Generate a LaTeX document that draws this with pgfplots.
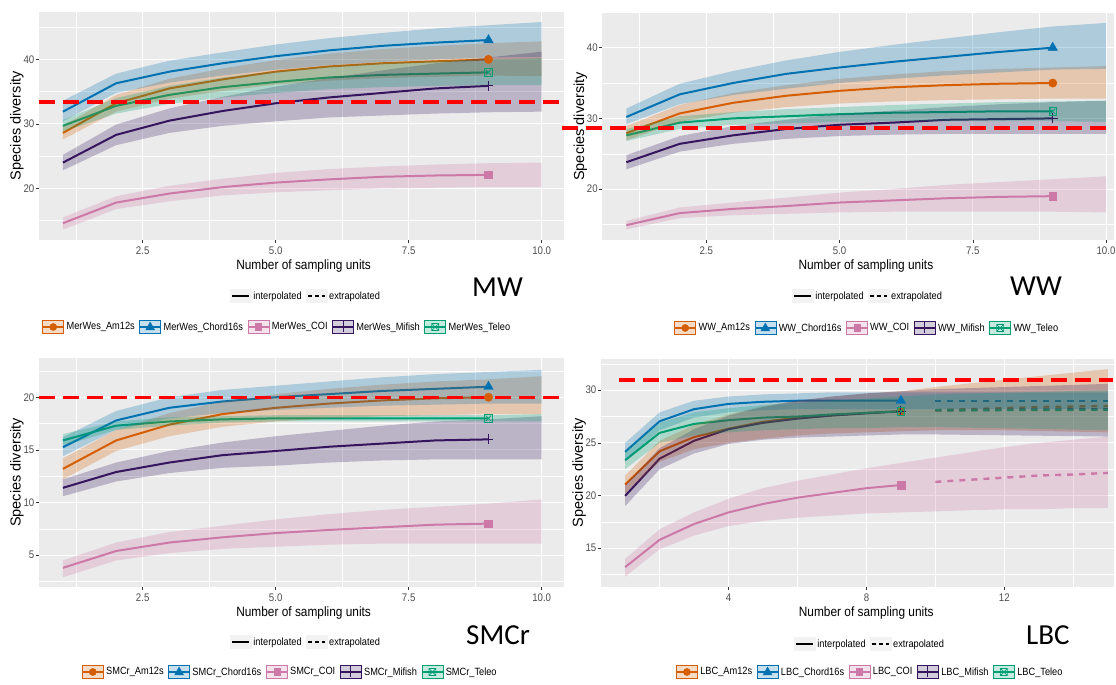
\documentclass[border=0pt]{standalone}
\usepackage{fontspec}
\setmainfont{Liberation Sans}[FakeStretch=0.88]
\newfontfamily\ylabfont{Liberation Sans}
\newfontfamily\bigfont{Carlito}
\usepackage{pgfplots}
\pgfplotsset{compat=1.18}
\definecolor{cAm}{HTML}{D55E00}
\definecolor{cCh}{HTML}{0072B2}
\definecolor{cCOI}{HTML}{CC79A7}
\definecolor{cMi}{HTML}{35155D}
\definecolor{cTe}{HTML}{009E73}
\definecolor{ggbg}{HTML}{EBEBEB}
\definecolor{ggtick}{HTML}{4D4D4D}
\definecolor{ggtl}{HTML}{333333}
\definecolor{keybg}{HTML}{F2F2F2}
\newcommand\legfont{\fontsize{10.5}{12}\selectfont}
\newcommand{\kbox}[1]{\draw[draw=#1, line width=0.7pt, fill=#1!22!white] (0pt,-6.5pt) rectangle (21pt,6.5pt);\draw[#1, line width=1.8pt] (0pt,0pt) -- (21pt,0pt);}
\pgfplotsset{
 gg/.style={
   scale only axis, anchor=south west, clip=false,
   axis background/.style={fill=ggbg},
   axis line style={draw=none},
   grid=both,
   major grid style={white, line width=0.9pt},
   minor grid style={white, line width=0.45pt},
   tick align=outside, xtick pos=bottom, ytick pos=left,
   major tick length=3pt, minor tick length=0pt,
   tick style={ggtl, line width=0.5pt},
   ticklabel style={font=\fontsize{11}{13}\selectfont, text=ggtick},
   yticklabel style={inner sep=1.5pt},
   /pgf/number format/assume math mode=true,
   xlabel={Number of sampling units},
   ylabel={Species diversity},
   xlabel style={font=\fontsize{13.5}{15}\selectfont, anchor=center, yshift=-26pt},
   ylabel style={font=\ylabfont\fontsize{14.5}{16}\selectfont, anchor=center, at={([xshift=-22pt]axis description cs:0,0.5)}},
 },
 band/.style={draw=none, fill=#1, fill opacity=0.26},
 ln/.style={#1, line width=2pt},
 dln/.style={#1, line width=2.4pt, dash pattern=on 6pt off 6pt},
 reddash/.style={color=red, line width=3.5pt, dash pattern=on 16pt off 8pt},
 mAm/.style={cAm, only marks, mark=*, mark size=4.2pt},
 mCh/.style={cCh, only marks, mark=triangle*, mark size=5.5pt},
 mCOI/.style={cCOI, only marks, mark=square*, mark size=3.8pt},
 mMi/.style={cMi, only marks, mark=+, mark size=5pt, line width=1pt},
 mTe/.style={cTe, only marks, mark=square, mark size=3.8pt, line width=0.8pt},
 mTe2/.style={cTe, only marks, mark=x, mark size=3.8pt, line width=0.8pt},
 legax/.style={hide axis, scale only axis, width=2pt, height=2pt, anchor=center,
   xmin=0, xmax=1, ymin=0, ymax=1, legend columns=-1,
   legend style={at={(0.5,0.5)}, anchor=center, draw=none, fill=none, font=\legfont,
     /tikz/every even column/.append style={column sep=2pt}}},
}
\newcommand{\linelegend}{%
 \addlegendimage{legend image code/.code={\fill[keybg] (0pt,-6.5pt) rectangle (21pt,6.5pt);\draw[black, line width=1.8pt] (2pt,0pt) -- (19pt,0pt);}}
 \addlegendentry{interpolated}
 \addlegendimage{legend image code/.code={\fill[keybg] (0pt,-6.5pt) rectangle (21pt,6.5pt);\draw[black, line width=1.8pt, dash pattern=on 4pt off 3pt] (2pt,0pt) -- (19pt,0pt);}}
 \addlegendentry{extrapolated}}
\newcommand{\colorlegend}[1]{%
 \addlegendimage{legend image code/.code={\kbox{cAm}\fill[cAm] (10.5pt,0pt) circle (3.6pt);}}
 \addlegendentry{#1\_Am12s}
 \addlegendimage{legend image code/.code={\kbox{cCh}\fill[cCh] (10.5pt,5pt) -- (15pt,-3pt) -- (6pt,-3pt) -- cycle;}}
 \addlegendentry{#1\_Chord16s}
 \addlegendimage{legend image code/.code={\kbox{cCOI}\fill[cCOI] (7.5pt,-3.5pt) rectangle (13.5pt,3.5pt);}}
 \addlegendentry{#1\_COI}
 \addlegendimage{legend image code/.code={\kbox{cMi}\draw[cMi, line width=0.8pt] (10.5pt,-5.5pt) -- (10.5pt,5.5pt);}}
 \addlegendentry{#1\_Mifish}
 \addlegendimage{legend image code/.code={\kbox{cTe}\draw[cTe, line width=0.6pt] (7pt,-3.5pt) rectangle (14pt,3.5pt) (7pt,-3.5pt) -- (14pt,3.5pt) (7pt,3.5pt) -- (14pt,-3.5pt);}}
 \addlegendentry{#1\_Teleo}}
\begin{document}
\begin{tikzpicture}
\useasboundingbox (0pt,0pt) rectangle (1116pt,685pt);
% ---------------- MW
\begin{axis}[gg, at={(39pt,445pt)}, width=525pt, height=228.3pt,
  xmin=0.55, xmax=10.42, ymin=12, ymax=47.4,
  xtick={2.5,5,7.5,10}, xticklabels={2.5,5.0,7.5,10.0}, minor xtick={1.25,3.75,6.25,8.75},
  ytick={20,30,40}, minor ytick={15,25,35,45},
  xlabel style={at={(axis description cs:0.504,0)}}]
\addplot[ln=cAm] coordinates {(1,28.6)(2,33.2)(3,35.5)(4,36.9)(5,38.1)(6,38.9)(7,39.4)(8,39.7)(9,40.0)};
\addplot[ln=cCh] coordinates {(1,31.9)(2,36.3)(3,38.1)(4,39.4)(5,40.5)(6,41.4)(7,42.1)(8,42.6)(9,43.0)};
\addplot[ln=cCOI] coordinates {(1,14.6)(2,17.8)(3,19.2)(4,20.2)(5,20.9)(6,21.4)(7,21.8)(8,22.0)(9,22.1)};
\addplot[ln=cMi] coordinates {(1,24.0)(2,28.3)(3,30.5)(4,32.0)(5,33.2)(6,34.1)(7,34.8)(8,35.5)(9,35.9)};
\addplot[ln=cTe] coordinates {(1,29.7)(2,32.8)(3,34.5)(4,35.7)(5,36.5)(6,37.2)(7,37.6)(8,37.8)(9,38.0)};
\addplot[mAm] coordinates {(9,40.0)};
\addplot[mCh] coordinates {(9,43.0)};
\addplot[mCOI] coordinates {(9,22.1)};
\addplot[mMi] coordinates {(9,35.9)};
\addplot[mTe] coordinates {(9,38.0)};
\addplot[mTe2] coordinates {(9,38.0)};
\addplot[band=cAm] coordinates {(1,27.6)(2,31.9)(3,33.9)(4,35.1)(5,36.1)(6,36.7)(7,37.1)(8,37.3)(9,37.5)(10,37.4)(10,42.8)(9,42.5)(8,42.1)(7,41.6)(6,40.9)(5,39.9)(4,38.6)(3,37.0)(2,34.5)(1,29.7)} -- cycle;
\addplot[band=cCh] coordinates {(1,30.4)(2,34.8)(3,36.4)(4,37.5)(5,38.4)(6,39.1)(7,39.6)(8,40.0)(9,40.3)(10,40.4)(10,45.8)(9,45.3)(8,44.8)(7,44.1)(6,43.3)(5,42.3)(4,41.1)(3,39.8)(2,37.8)(1,33.6)} -- cycle;
\addplot[band=cCOI] coordinates {(1,13.6)(2,16.8)(3,18.0)(4,18.9)(5,19.4)(6,19.7)(7,20.0)(8,20.1)(9,20.2)(10,20.2)(10,24.0)(9,23.9)(8,23.7)(7,23.4)(6,23.0)(5,22.4)(4,21.5)(3,20.4)(2,18.8)(1,15.5)} -- cycle;
\addplot[band=cMi] coordinates {(1,22.8)(2,26.7)(3,28.6)(4,29.7)(5,30.4)(6,31.0)(7,31.3)(8,31.6)(9,31.8)(10,31.9)(10,41.2)(9,40.3)(8,39.4)(7,38.3)(6,37.1)(5,35.8)(4,34.2)(3,32.4)(2,29.9)(1,25.2)} -- cycle;
\addplot[band=cTe] coordinates {(1,28.8)(2,31.6)(3,33.1)(4,34.1)(5,34.8)(6,35.4)(7,35.7)(8,35.9)(9,36.0)(10,36.0)(10,40.2)(9,40.0)(8,39.8)(7,39.5)(6,39.0)(5,38.2)(4,37.2)(3,35.9)(2,34.0)(1,30.6)} -- cycle;
\addplot[reddash] coordinates {(0.55,33.4)(10.38,33.4)};
\end{axis}
% ---------------- WW
\begin{axis}[gg, at={(602.4pt,445pt)}, width=511.6pt, height=227.3pt,
  xmin=0.55, xmax=10.15, ymin=12.8, ymax=44.95,
  xtick={2.5,5,7.5,10}, xticklabels={2.5,5.0,7.5,10.0}, minor xtick={1.25,3.75,6.25,8.75},
  ytick={20,30,40}, minor ytick={15,25,35},
  xlabel style={at={(axis description cs:0.515,0)}}]
\addplot[ln=cAm] coordinates {(1,27.9)(2,30.7)(3,32.2)(4,33.2)(5,33.9)(6,34.4)(7,34.7)(8,34.9)(9,35.0)};
\addplot[ln=cCh] coordinates {(1,30.2)(2,33.4)(3,35.0)(4,36.3)(5,37.2)(6,38.0)(7,38.7)(8,39.4)(9,40.0)};
\addplot[ln=cCOI] coordinates {(1,14.9)(2,16.6)(3,17.2)(4,17.6)(5,18.1)(6,18.4)(7,18.7)(8,18.9)(9,19.0)};
\addplot[ln=cMi] coordinates {(1,23.8)(2,26.4)(3,27.6)(4,28.5)(5,29.1)(6,29.4)(7,29.8)(8,29.9)(9,30.0)};
\addplot[ln=cTe] coordinates {(1,27.6)(2,29.4)(3,30.0)(4,30.3)(5,30.6)(6,30.8)(7,30.9)(8,31.0)(9,31.0)};
\addplot[mAm] coordinates {(9,35.0)};
\addplot[mCh] coordinates {(9,40.0)};
\addplot[mCOI] coordinates {(9,19.0)};
\addplot[mMi] coordinates {(9,30.0)};
\addplot[mTe] coordinates {(9,31.0)};
\addplot[mTe2] coordinates {(9,31.0)};
\addplot[band=cAm] coordinates {(1,26.9)(2,29.5)(3,30.8)(4,31.6)(5,32.1)(6,32.4)(7,32.6)(8,32.7)(9,32.8)(10,32.8)(10,37.4)(9,37.2)(8,37.0)(7,36.7)(6,36.2)(5,35.6)(4,34.7)(3,33.6)(2,31.9)(1,28.9)} -- cycle;
\addplot[band=cCh] coordinates {(1,29.2)(2,32.0)(3,33.3)(4,34.2)(5,35.0)(6,35.6)(7,36.1)(8,36.5)(9,36.9)(10,37.0)(10,43.5)(9,43.0)(8,42.2)(7,41.3)(6,40.4)(5,39.4)(4,38.2)(3,36.7)(2,34.9)(1,31.4)} -- cycle;
\addplot[band=cCOI] coordinates {(1,14.3)(2,15.9)(3,16.3)(4,16.5)(5,16.7)(6,16.8)(7,16.8)(8,16.8)(9,16.8)(10,16.7)(10,21.8)(9,21.4)(8,21.0)(7,20.6)(6,20.0)(5,19.5)(4,18.8)(3,18.1)(2,17.4)(1,15.5)} -- cycle;
\addplot[band=cMi] coordinates {(1,22.8)(2,25.3)(3,26.4)(4,27.1)(5,27.5)(6,27.7)(7,27.8)(8,27.8)(9,27.8)(10,27.8)(10,32.5)(9,32.3)(8,32.0)(7,31.6)(6,31.1)(5,30.6)(4,29.8)(3,28.9)(2,27.5)(1,24.8)} -- cycle;
\addplot[band=cTe] coordinates {(1,26.8)(2,28.5)(3,29.1)(4,29.3)(5,29.5)(6,29.6)(7,29.6)(8,29.6)(9,29.6)(10,29.5)(10,32.5)(9,32.4)(8,32.3)(7,32.1)(6,31.9)(5,31.6)(4,31.3)(3,30.9)(2,30.3)(1,28.5)} -- cycle;
\addplot[reddash] coordinates {(-0.21,28.65)(10.13,28.65)};
\end{axis}
% ---------------- SMCr
\begin{axis}[gg, at={(39pt,98pt)}, width=525pt, height=229pt,
  xmin=0.55, xmax=10.42, ymin=1.98, ymax=23.73,
  xtick={2.5,5,7.5,10}, xticklabels={2.5,5.0,7.5,10.0}, minor xtick={1.25,3.75,6.25,8.75},
  ytick={5,10,15,20}, minor ytick={2.5,7.5,12.5,17.5,22.5},
  xlabel style={at={(axis description cs:0.504,0)}}]
\addplot[ln=cAm] coordinates {(1,13.2)(2,15.9)(3,17.4)(4,18.4)(5,19.0)(6,19.4)(7,19.7)(8,19.9)(9,20.0)};
\addplot[ln=cCh] coordinates {(1,15.25)(2,17.8)(3,19.0)(4,19.6)(5,20.0)(6,20.3)(7,20.6)(8,20.8)(9,21.0)};
\addplot[ln=cCOI] coordinates {(1,3.8)(2,5.4)(3,6.2)(4,6.7)(5,7.1)(6,7.4)(7,7.65)(8,7.9)(9,8.0)};
\addplot[ln=cMi] coordinates {(1,11.4)(2,12.9)(3,13.8)(4,14.5)(5,14.9)(6,15.3)(7,15.6)(8,15.9)(9,16.0)};
\addplot[ln=cTe] coordinates {(1,15.9)(2,17.3)(3,17.7)(4,17.9)(5,18.0)(6,18.0)(7,18.0)(8,18.0)(9,18.0)};
\addplot[mAm] coordinates {(9,20.0)};
\addplot[mCh] coordinates {(9,21.0)};
\addplot[mCOI] coordinates {(9,8.0)};
\addplot[mMi] coordinates {(9,16.0)};
\addplot[mTe] coordinates {(9,18.0)};
\addplot[mTe2] coordinates {(9,18.0)};
\addplot[band=cAm] coordinates {(1,12.2)(2,14.9)(3,16.3)(4,17.2)(5,17.7)(6,18.0)(7,18.2)(8,18.3)(9,18.4)(10,18.4)(10,22.0)(9,21.7)(8,21.5)(7,21.2)(6,20.8)(5,20.3)(4,19.6)(3,18.5)(2,16.9)(1,14.2)} -- cycle;
\addplot[band=cCh] coordinates {(1,14.4)(2,16.9)(3,18.0)(4,18.5)(5,18.8)(6,19.0)(7,19.2)(8,19.3)(9,19.4)(10,19.4)(10,22.6)(9,22.4)(8,22.2)(7,21.9)(6,21.5)(5,21.1)(4,20.7)(3,20.0)(2,18.7)(1,16.2)} -- cycle;
\addplot[band=cCOI] coordinates {(1,2.9)(2,4.5)(3,5.2)(4,5.6)(5,5.8)(6,6.0)(7,6.1)(8,6.1)(9,6.1)(10,6.1)(10,10.3)(9,9.9)(8,9.6)(7,9.3)(6,8.9)(5,8.4)(4,7.8)(3,7.2)(2,6.2)(1,4.5)} -- cycle;
\addplot[band=cMi] coordinates {(1,10.6)(2,12.0)(3,12.8)(4,13.3)(5,13.5)(6,13.8)(7,14.0)(8,14.1)(9,14.1)(10,14.1)(10,18.2)(9,17.9)(8,17.7)(7,17.3)(6,16.8)(5,16.3)(4,15.7)(3,14.9)(2,13.8)(1,12.2)} -- cycle;
\addplot[band=cTe] coordinates {(1,15.4)(2,16.9)(3,17.3)(4,17.6)(5,17.7)(6,17.7)(7,17.7)(8,17.7)(9,17.7)(10,17.7)(10,18.4)(9,18.3)(8,18.3)(7,18.3)(6,18.3)(5,18.3)(4,18.2)(3,18.1)(2,17.7)(1,16.5)} -- cycle;
\addplot[reddash] coordinates {(0.55,20.0)(10.38,20.0)};
\end{axis}
% ---------------- LBC
\begin{axis}[gg, at={(601pt,98pt)}, width=513pt, height=228.4pt,
  xmin=0.3, xmax=15.18, ymin=11.32, ymax=33.0,
  xtick={4,8,12}, minor xtick={2,6,10,14},
  ytick={15,20,25,30}, minor ytick={12.5,17.5,22.5,27.5,32.5},
  xlabel style={at={(axis description cs:0.517,0)}}]
\addplot[ln=cAm] coordinates {(1,21.05)(2,24.2)(3,25.55)(4,26.35)(5,27.0)(6,27.4)(7,27.6)(8,27.85)(9,28.0)};
\addplot[ln=cCh] coordinates {(1,24.15)(2,27.05)(3,28.2)(4,28.7)(5,28.9)(6,29.0)(7,29.0)(8,29.0)(9,29.0)};
\addplot[ln=cCOI] coordinates {(1,13.2)(2,15.8)(3,17.3)(4,18.4)(5,19.2)(6,19.8)(7,20.25)(8,20.7)(9,21.0)};
\addplot[ln=cMi] coordinates {(1,19.97)(2,23.5)(3,25.2)(4,26.3)(5,26.9)(6,27.3)(7,27.6)(8,27.8)(9,28.0)};
\addplot[ln=cTe] coordinates {(1,23.35)(2,25.95)(3,26.8)(4,27.15)(5,27.4)(6,27.5)(7,27.7)(8,27.85)(9,28.0)};
\addplot[dln=cAm] coordinates {(10,28.1)(11,28.2)(12,28.3)(13,28.4)(14,28.45)(15,28.5)};
\addplot[dln=cCh] coordinates {(10,29.0)(11,29.0)(12,29.0)(13,29.0)(14,29.0)(15,29.0)};
\addplot[dln=cCOI] coordinates {(10,21.3)(11,21.5)(12,21.7)(13,21.9)(14,22.0)(15,22.15)};
\addplot[dln=cMi] coordinates {(10,28.1)(11,28.12)(12,28.14)(13,28.16)(14,28.18)(15,28.2)};
\addplot[dln=cTe] coordinates {(10,28.1)(11,28.1)(12,28.12)(13,28.13)(14,28.14)(15,28.15)};
\addplot[mAm] coordinates {(9,28.0)};
\addplot[mCh] coordinates {(9,29.0)};
\addplot[mCOI] coordinates {(9,21.0)};
\addplot[mMi] coordinates {(9,28.0)};
\addplot[mTe] coordinates {(9,28.0)};
\addplot[mTe2] coordinates {(9,28.0)};
\addplot[band=cAm] coordinates {(1,20.2)(2,23.2)(3,24.4)(4,25.0)(5,25.4)(6,25.7)(7,25.9)(8,26.0)(9,26.1)(10,26.2)(12,26.2)(15,26.0)(15,32.0)(12,31.0)(10,30.3)(9,29.9)(8,29.7)(7,29.4)(6,29.0)(5,28.5)(4,27.7)(3,26.7)(2,25.2)(1,21.9)} -- cycle;
\addplot[band=cCh] coordinates {(1,23.3)(2,26.2)(3,27.4)(4,27.9)(5,28.1)(6,28.2)(15,28.2)(15,29.8)(7,29.8)(6,29.7)(5,29.6)(4,29.4)(3,29.0)(2,27.9)(1,25.0)} -- cycle;
\addplot[band=cCOI] coordinates {(1,12.3)(2,14.9)(3,16.2)(4,17.1)(5,17.6)(6,17.9)(7,18.1)(8,18.3)(9,18.4)(10,18.5)(11,18.6)(12,18.7)(13,18.7)(14,18.8)(15,18.8)(15,25.6)(14,25.3)(13,25.0)(12,24.6)(11,24.1)(10,23.6)(9,23.1)(8,22.6)(7,22.0)(6,21.4)(5,20.7)(4,19.7)(3,18.4)(2,16.8)(1,14.0)} -- cycle;
\addplot[band=cMi] coordinates {(1,19.0)(2,22.5)(3,24.0)(4,24.9)(5,25.3)(6,25.5)(7,25.6)(8,25.7)(9,25.8)(10,25.8)(15,25.6)(15,30.6)(10,30.1)(9,29.9)(8,29.7)(7,29.4)(6,29.0)(5,28.4)(4,27.6)(3,26.3)(2,24.5)(1,21.0)} -- cycle;
\addplot[band=cTe] coordinates {(1,22.5)(2,25.0)(3,25.7)(4,26.0)(5,26.2)(6,26.3)(7,26.4)(8,26.4)(9,26.5)(10,26.5)(15,26.2)(15,30.0)(10,29.6)(9,29.4)(8,29.2)(7,29.0)(6,28.8)(5,28.6)(4,28.3)(3,27.9)(2,26.9)(1,24.2)} -- cycle;
\addplot[reddash] coordinates {(0.82,30.95)(15.16,30.95)};
\end{axis}
% ---------------- legends
\begin{axis}[legax, at={(306pt,389pt)}] \linelegend \end{axis}
\begin{axis}[legax, at={(277pt,358pt)}] \colorlegend{MerWes} \end{axis}
\begin{axis}[legax, at={(868pt,389pt)}] \linelegend \end{axis}
\begin{axis}[legax, at={(867pt,357pt)}] \colorlegend{WW} \end{axis}
\begin{axis}[legax, at={(306pt,43pt)}] \linelegend \end{axis}
\begin{axis}[legax, at={(290pt,13pt)}] \colorlegend{SMCr} \end{axis}
\begin{axis}[legax, at={(870pt,41pt)}] \linelegend \end{axis}
\begin{axis}[legax, at={(870pt,13pt)}] \colorlegend{LBC} \end{axis}
% ---------------- panel names
\node[anchor=base west, inner sep=0pt, font=\bigfont\fontsize{29}{32}\selectfont] at (472pt,388pt) {MW};
\node[anchor=base west, inner sep=0pt, font=\bigfont\fontsize{29}{32}\selectfont] at (1010pt,389pt) {WW};
\node[anchor=base west, inner sep=0pt, font=\bigfont\fontsize{29}{32}\selectfont] at (466pt,40pt) {SMCr};
\node[anchor=base west, inner sep=0pt, font=\bigfont\fontsize{29}{32}\selectfont] at (1026pt,40pt) {LBC};
\end{tikzpicture}
\end{document}
